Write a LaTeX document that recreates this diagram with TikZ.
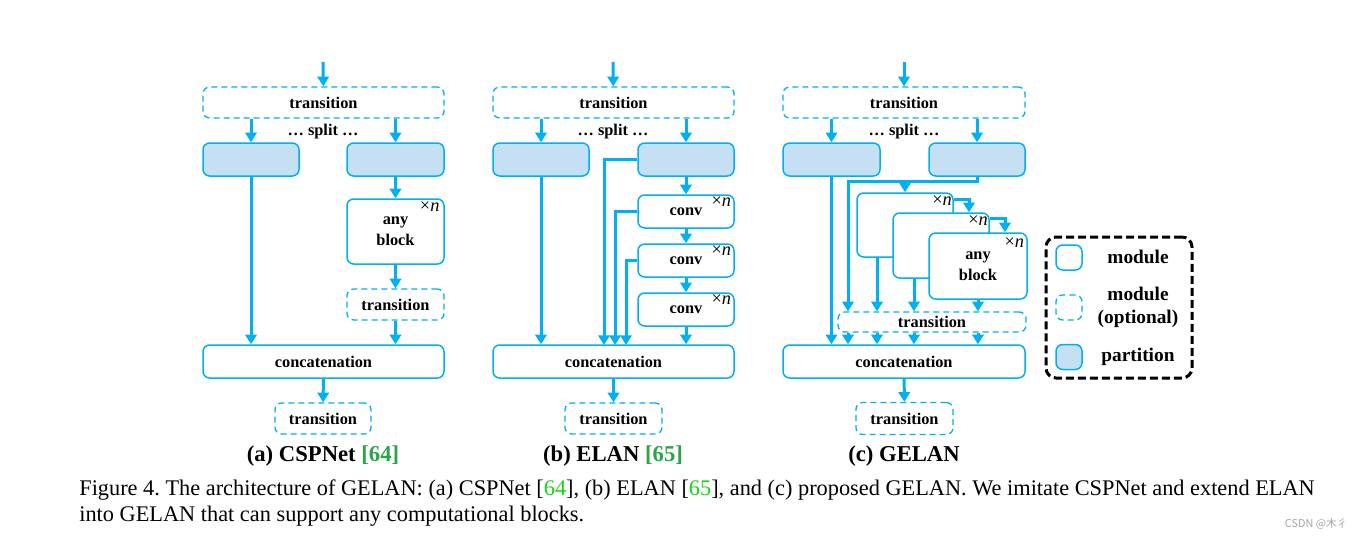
\documentclass[tikz,border=0pt]{standalone}
\usepackage{fontspec}
\setmainfont{Liberation Serif}
\newfontfamily\cjkfont{Noto Sans CJK SC}
\usetikzlibrary{arrows.meta,positioning}
\definecolor{lineblue}{RGB}{0,176,240}
\definecolor{partfill}{RGB}{197,224,242}
\definecolor{citegreen}{RGB}{40,165,70}
\definecolor{refgreen}{RGB}{20,215,20}
\frenchspacing

\begin{document}
\begin{tikzpicture}[x=0.6pt,y=-0.6pt,
    every node/.style={font=\fontsize{9.8}{12.5}\selectfont\bfseries},
    box/.style 2 args={minimum width=#1*0.6pt,minimum height=#2*0.6pt},
    module/.style={draw=lineblue,line width=0.9pt,rounded corners=4pt,fill=white,inner sep=0pt,align=center},
    optional/.style={module,dash pattern=on 3.6pt off 2.4pt,line width=0.8pt},
    partition/.style={module,fill=partfill},
    flow/.style={draw=lineblue,line width=1.8pt,-{Triangle[length=5.8pt,width=6.8pt]}},
    timesn/.style={font=\fontsize{11}{12}\selectfont,inner sep=0pt,anchor=north east},
    keytext/.style={align=center,font=\fontsize{11.6}{13.8}\selectfont\bfseries}]
  \tikzstyle{sublabel}=[font=\fontsize{13.6}{15}\selectfont\bfseries]
  \useasboundingbox (0,0) rectangle (1359,541);

  % (a) CSPNet
  \coordinate (ain) at (323,62);
  \node[optional,box={241}{31}] (atop) at (323.5,102.5) {transition};
  \node (asplit) at (323,132) {\ldots{} split \ldots};
  \node[partition,box={96}{33}] (apl) at (251,159.5) {};
  \node[partition,box={97}{33}] (apr) at (395.5,159.5) {};
  \node[module,box={97}{65}] (ablk) at (395.5,231.5) {any\\block};
  \node[timesn] at ([xshift=-3pt,yshift=-2pt]ablk.north east) {×\textit{n}};
  \node[optional,box={97}{31}] (atr) at (395.5,304.5) {transition};
  \node[module,box={241}{33}] (acat) at (323.5,361.5) {concatenation};
  \node[optional,box={96}{31}] (aout) at (323,418.5) {transition};
  \node[sublabel] (alab) at (323,456) {(a) CSPNet \textcolor{citegreen}{[64]}};

  \draw[flow] (ain) -- (atop);
  \draw[flow] (atop.south -| apl.north) -- (apl.north);
  \draw[flow] (atop.south -| apr.north) -- (apr.north);
  \draw[flow] (apl) -- (acat.north -| apl);
  \draw[flow] (apr) -- (ablk);
  \draw[flow] (ablk) -- (atr);
  \draw[flow] (atr) -- (acat.north -| atr);
  \draw[flow] (acat) -- (aout);

  % (b) ELAN
  \coordinate (bin) at (613,62);
  \node[optional,box={241}{31}] (btop) at (613.5,102.5) {transition};
  \node (bsplit) at (613,132) {\ldots{} split \ldots};
  \node[partition,box={96}{33}] (bpl) at (541,159.5) {};
  \node[partition,box={96}{33}] (bpr) at (686,159.5) {};
  \node[module,box={96}{33}] (bc1) at (686,211.5) {conv};
  \node[module,box={96}{33}] (bc2) at (686,260.5) {conv};
  \node[module,box={96}{33}] (bc3) at (686,309.5) {conv};
  \foreach \b in {bc1,bc2,bc3}
    \node[timesn] at ([xshift=-2pt,yshift=-1pt]\b.north east) {×\textit{n}};
  \node[module,box={241}{33}] (bcat) at (613.5,361.5) {concatenation};
  \node[optional,box={97}{31}] (bout) at (613.5,418.5) {transition};
  \node[sublabel] (blab) at (613,456) {(b) ELAN \textcolor{citegreen}{[65]}};
  \coordinate (bk1) at (604,345);
  \coordinate (bk2) at (615,345);
  \coordinate (bk3) at (626,345);

  \draw[flow] (bin) -- (btop);
  \draw[flow] (btop.south -| bpl.north) -- (bpl.north);
  \draw[flow] (btop.south -| bpr.north) -- (bpr.north);
  \draw[flow] (bpl) -- (bcat.north -| bpl);
  \draw[flow] (bpr) -- (bc1);
  \draw[flow] (bc1) -- (bc2);
  \draw[flow] (bc2) -- (bc3);
  \draw[flow] (bc3) -- (bcat.north -| bc3);
  \draw[flow] (bpr.west) -| (bk1);
  \draw[flow] (bc1.west) -| (bk2);
  \draw[flow] (bc2.west) -| (bk3);
  \draw[flow] (bcat) -- (bout);

  % (c) GELAN
  \coordinate (cin) at (904,62);
  \node[optional,box={242}{31}] (ctop) at (904,102.5) {transition};
  \node (csplit) at (904,132) {\ldots{} split \ldots};
  \node[partition,box={97}{33}] (cpl) at (831.5,159.5) {};
  \node[partition,box={96}{33}] (cpr) at (977,159.5) {};
  \node[module,box={96}{64}] (cb1) at (905,225) {};
  \node[timesn] at ([xshift=-1pt,yshift=-2pt]cb1.north east) {×\textit{n}};
  \node[module,box={96}{65}] (cb2) at (941,245.5) {};
  \node[timesn] at ([xshift=-1pt,yshift=-2pt]cb2.north east) {×\textit{n}};
  \node[module,box={98}{66}] (cb3) at (978,266) {any\\block};
  \node[timesn] at ([xshift=-2pt,yshift=-3pt]cb3.north east) {×\textit{n}};
  \node[optional,box={188}{20}] (ctr) at (932,322) {transition};
  \node[module,box={242}{33}] (ccat) at (904,361.5) {concatenation};
  \node[optional,box={97}{32}] (cout) at (904.5,418.5) {transition};
  \node[sublabel] (clab) at (904,456) {(c) GELAN};
  \coordinate (ck1) at (848,181);

  \draw[flow] (cin) -- (ctop);
  \draw[flow] (ctop.south -| cpl.north) -- (cpl.north);
  \draw[flow] (ctop.south -| cpr.north) -- (cpr.north);
  \draw[flow] (cpl) -- (ccat.north -| cpl);
  \draw[flow] (cpr.south) |- (ck1) -- (ck1 |- ctr.north);
  \draw[flow] (cb1.north |- ck1) -- (cb1.north);
  \draw[flow] ([yshift=-4.2pt]cb1.north east) -| ([xshift=16.8pt]cb2.north);
  \draw[flow] ([yshift=-3.6pt]cb2.north east) -| ([xshift=16.2pt]cb3.north);
  \draw[flow] ([xshift=-16.8pt]cb1.south) -- ([xshift=-16.8pt]cb1.south |- ctr.north);
  \draw[flow] ([xshift=-16.2pt]cb2.south) -- ([xshift=-16.2pt]cb2.south |- ctr.north);
  \draw[flow] (cb3) -- (cb3.south |- ctr.north);
  \foreach \lx in {848,877,914,978}
    \draw[flow] (ctr.south -| \lx,0) -- (ccat.north -| \lx,0);
  \draw[flow] (ccat) -- (cout);

  % Legend
  \node[draw=black,line width=1.8pt,dash pattern=on 4.8pt off 2.4pt,rounded corners=6pt,box={146}{141}] (legend) at (1119,307.5) {};
  \node[module,box={26}{25}] (lmod) at (1069,257.5) {};
  \node[optional,box={26}{25}] (lopt) at (1069,307.5) {};
  \node[partition,box={26}{25}] (lpart) at (1069,357) {};
  \node[keytext] at (1138,257) {module};
  \node[keytext] at (1138,307.5) {module\\(optional)};
  \node[keytext] at (1138,357) {partition};

  % Caption
  \node[anchor=base west,inner sep=0pt,font=\fontsize{13.4}{15}\selectfont] (cap1) at (79,495)
    {Figure 4. The architecture of GELAN: (a) CSPNet [\textcolor{refgreen}{64}], (b) ELAN [\textcolor{refgreen}{65}], and (c) proposed GELAN. We imitate CSPNet and extend ELAN};
  \node[anchor=base west,inner sep=0pt,font=\fontsize{13.4}{15}\selectfont] (cap2) at (79,521)
    {into GELAN that can support any computational blocks.};
  \node[anchor=base east,inner sep=0pt,text=gray!70,font=\cjkfont\fontsize{6.5}{7}\selectfont] (mark) at (1348,527) {CSDN @木彳};
\end{tikzpicture}
\end{document}
